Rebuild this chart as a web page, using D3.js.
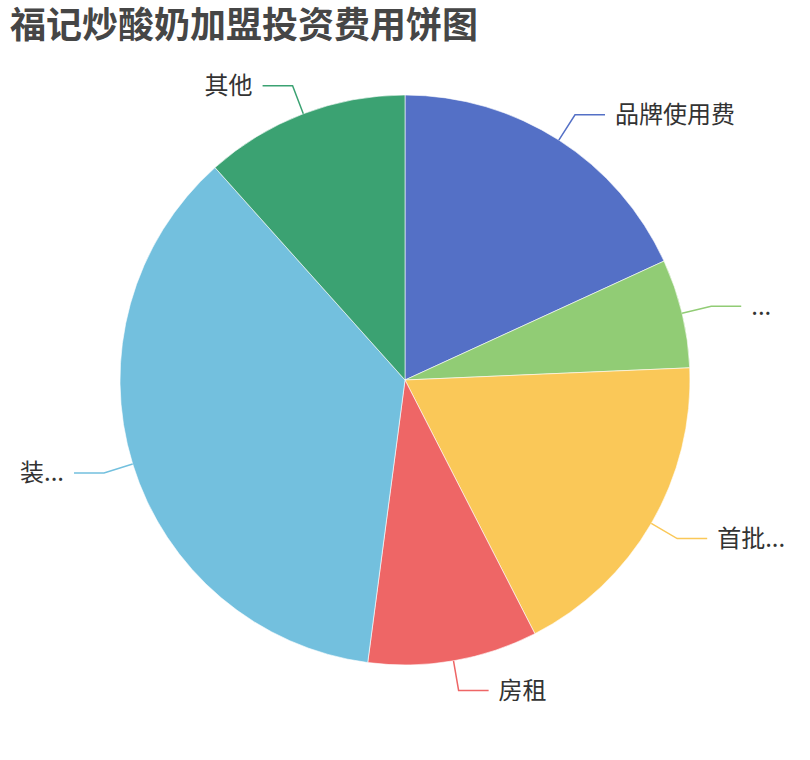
<!DOCTYPE html>
<html>
<head>
<meta charset="utf-8">
<script src="https://cdn.jsdelivr.net/npm/d3@7"></script>
<style>
  body { margin: 0; background: #fff; }
  text { font-family: "Noto Sans CJK SC", "Noto Sans", sans-serif; }
</style>
</head>
<body>
<div id="chart"></div>
<script>
// chart data
var categories = ["品牌使用费", "设备费", "首批进货费", "房租", "装修费", "其他"];
var labelTexts = ["品牌使用费", "...", "首批...", "房租", "装...", "其他"];
var values = [5, 1.7, 5, 2.65, 10, 3.2];
var colors = ["#5470c6", "#91cc75", "#fac858", "#ee6666", "#73c0de", "#3ba272"];

var svgWidth = 810;
var svgHeight = 760;
var cx = 405, cy = 380, radius = 285;

var svg = d3.select("#chart")
  .append("svg")
  .attr("width", svgWidth)
  .attr("height", svgHeight);

// title
svg.append("text")
  .attr("x", 10)
  .attr("y", 38)
  .attr("font-size", "36px")
  .attr("font-weight", "bold")
  .attr("fill", "#464646")
  .text("福记炒酸奶加盟投资费用饼图");

var data = categories.map(function (c, i) {
  return { name: c, label: labelTexts[i], value: values[i], color: colors[i] };
});

var pie = d3.pie().sort(null).value(d => d.value);
var arc = d3.arc().innerRadius(0).outerRadius(radius);
var arcs = pie(data);

var g = svg.append("g").attr("transform", `translate(${cx}, ${cy})`);

g.selectAll("path.slice")
  .data(arcs)
  .enter()
  .append("path")
  .attr("class", "slice")
  .attr("d", arc)
  .attr("fill", d => d.data.color)
  .attr("stroke", "#fff")
  .attr("stroke-width", 0.6);

// label lines: radial segment of 30, then horizontal 30, text 10 further
var len1 = 30, len2 = 30, gap = 10;
arcs.forEach(function (d) {
  var a = (d.startAngle + d.endAngle) / 2;
  var sx = Math.sin(a), sy = -Math.cos(a);
  var p0 = [sx * radius, sy * radius];
  var p1 = [sx * (radius + len1), sy * (radius + len1)];
  var dir = sx >= 0 ? 1 : -1;
  var p2 = [p1[0] + dir * len2, p1[1]];

  g.append("polyline")
    .attr("points", [p0, p1, p2].map(p => p.join(",")).join(" "))
    .attr("fill", "none")
    .attr("stroke", d.data.color)
    .attr("stroke-width", 1.5);

  g.append("text")
    .attr("x", p2[0] + dir * gap)
    .attr("y", p2[1])
    .attr("dy", "0.35em")
    .attr("text-anchor", dir > 0 ? "start" : "end")
    .attr("font-size", "24px")
    .attr("fill", "#333")
    .text(d.data.label);
});
</script>
</body>
</html>
